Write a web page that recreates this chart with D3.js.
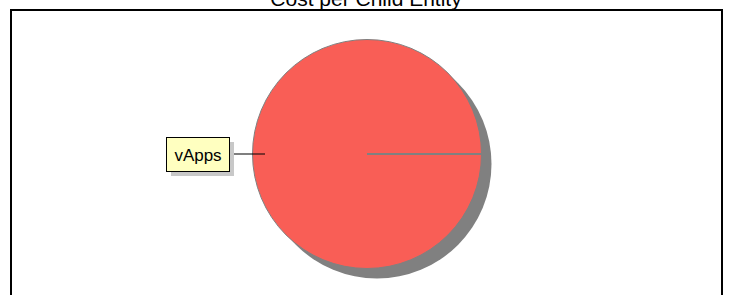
<!DOCTYPE html>
<html>
<head>
<meta charset="utf-8">
<script src="https://cdn.jsdelivr.net/npm/d3@7"></script>
<style>
  body { margin: 0; background: #fff; }
  svg { display: block; font-family: "Liberation Sans", Arial, sans-serif; }
</style>
</head>
<body>
<div id="chart"></div>
<script>
var categories = ["vApps"];
var costs = [100];
var title = "Cost per Child Entity";

var width = 731;
var height = 295;
var cx = 367, cy = 154, radius = 114.5;

var svg = d3.select("#chart").append("svg")
    .attr("width", width)
    .attr("height", height);

// title (partly cut at top)
svg.append("text")
    .attr("x", 366)
    .attr("y", 5.5)
    .attr("text-anchor", "middle")
    .attr("font-size", 21)
    .attr("fill", "#000")
    .text(title);

// frame
svg.append("rect")
    .attr("x", 11)
    .attr("y", 10)
    .attr("width", 711)
    .attr("height", 300)
    .attr("fill", "none")
    .attr("stroke", "#000")
    .attr("stroke-width", 2);

var pie = d3.pie()
    .sort(null)
    .startAngle(Math.PI / 2)
    .endAngle(Math.PI / 2 + Math.PI * 2);

var arcs = pie(costs);
var arc = d3.arc().innerRadius(0).outerRadius(radius);

// shadow
svg.append("g")
    .attr("transform", "translate(" + (cx + 10) + "," + (cy + 10) + ")")
    .selectAll("path")
    .data(arcs)
    .enter()
    .append("path")
    .attr("d", arc)
    .attr("fill", "#808080");

var g = svg.append("g")
    .attr("transform", "translate(" + cx + "," + cy + ")");

g.selectAll("path.slice")
    .data(arcs)
    .enter()
    .append("path")
    .attr("class", "slice")
    .attr("d", arc)
    .attr("fill", "#f95e56")
    .attr("stroke", "#808080")
    .attr("stroke-width", 1);

// slice edge lines
g.selectAll("line.edge")
    .data(arcs)
    .enter()
    .append("line")
    .attr("class", "edge")
    .attr("x1", 0)
    .attr("y1", 0)
    .attr("x2", function(d) { return radius * Math.sin(d.startAngle); })
    .attr("y2", function(d) { return -radius * Math.cos(d.startAngle); })
    .attr("stroke", "#808080")
    .attr("stroke-width", 2);

// labels
var boxW = 63, boxH = 34;
var labels = svg.selectAll("g.label")
    .data(arcs)
    .enter()
    .append("g")
    .attr("class", "label");

labels.each(function(d, i) {
    var mid = (d.startAngle + d.endAngle) / 2;
    var ex = cx + (radius - 12.5) * Math.sin(mid);
    var ey = cy - (radius - 12.5) * Math.cos(mid);
    var bx = cx + (radius + 23.5) * Math.sin(mid) - boxW;
    var by = ey - boxH / 2;
    var sel = d3.select(this);
    sel.append("line")
        .attr("x1", bx + boxW)
        .attr("y1", ey)
        .attr("x2", ex)
        .attr("y2", ey)
        .attr("stroke", "#000")
        .attr("stroke-width", 1.2);
    sel.append("rect")
        .attr("x", bx + 5)
        .attr("y", by + 5)
        .attr("width", boxW)
        .attr("height", boxH)
        .attr("fill", "#c8c8c8");
    sel.append("rect")
        .attr("x", bx + 0.5)
        .attr("y", by + 0.5)
        .attr("width", boxW)
        .attr("height", boxH)
        .attr("fill", "#ffffc0")
        .attr("stroke", "#000")
        .attr("stroke-width", 1);
    sel.append("text")
        .attr("x", bx + boxW / 2 + 0.5)
        .attr("y", by + boxH / 2 + 6.5)
        .attr("text-anchor", "middle")
        .attr("font-size", 17)
        .attr("fill", "#000")
        .text(categories[i]);
});
</script>
</body>
</html>
